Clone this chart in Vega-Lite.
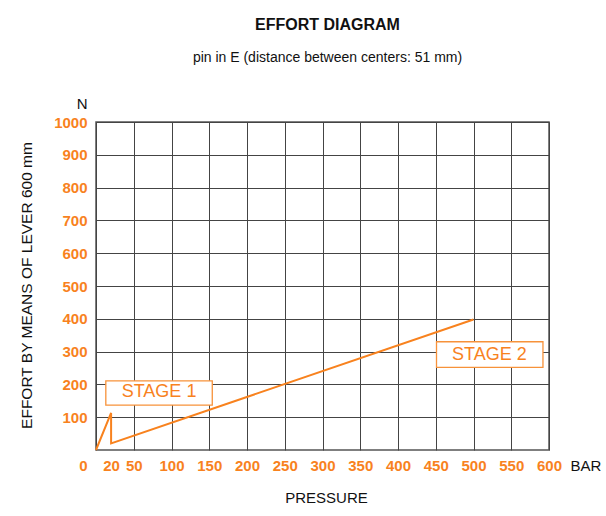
{
  "$schema": "https://vega.github.io/schema/vega-lite/v6.json",
  "width": 453,
  "height": 328,
  "autosize": {"type": "none"},
  "padding": {"left": 96, "top": 122, "right": 57, "bottom": 66},
  "background": "white",
  "title": {
    "text": "EFFORT DIAGRAM",
    "subtitle": "pin in E (distance between centers: 51 mm)",
    "anchor": "middle",
    "frame": "group",
    "dx": 5,
    "font": "Liberation Sans",
    "fontSize": 16,
    "fontWeight": "bold",
    "color": "#111111",
    "subtitleFont": "Liberation Sans",
    "subtitleFontSize": 14,
    "subtitleColor": "#111111",
    "subtitlePadding": 18,
    "offset": 31
  },
  "config": {
    "view": {"stroke": "#555555", "strokeWidth": 1.5}
  },
  "datasets": {
    "curve": [
      {"i": 1, "pressure": 0, "effort": 0},
      {"i": 2, "pressure": 20, "effort": 113},
      {"i": 3, "pressure": 20, "effort": 20},
      {"i": 4, "pressure": 500, "effort": 398}
    ],
    "stages": [
      {"label": "STAGE 1", "x1": 13, "x2": 154, "y1": 137, "y2": 211, "tx": 83.5, "ty": 176},
      {"label": "STAGE 2", "x1": 451, "x2": 592, "y1": 252, "y2": 330, "tx": 521, "ty": 291}
    ]
  },
  "layer": [
    {
      "data": {"name": "stages"},
      "mark": {"type": "rect", "fill": "white", "stroke": "#f7923a", "strokeWidth": 1.3},
      "encoding": {
        "x": {
          "field": "x1", "type": "quantitative",
          "scale": {"domain": [0, 600], "nice": false, "zero": true},
          "axis": {
            "orient": "bottom",
            "values": [0, 20, 50, 100, 150, 200, 250, 300, 350, 400, 450, 500, 550, 600],
            "format": "d",
            "grid": true,
            "gridColor": "#444444",
            "gridWidth": 1,
            "gridOpacity": {"condition": {"test": "datum.value === 20", "value": 0}, "value": 1},
            "ticks": false,
            "tickSize": 0,
            "domain": false,
            "labelFont": "Liberation Sans",
            "labelFontSize": 15,
            "labelFontWeight": "bold",
            "labelColor": "#f8821e",
            "labelBaseline": "alphabetic",
            "labelPadding": 20,
            "labelFlush": false,
            "labelOverlap": false,
            "labelOffset": {"condition": {"test": "datum.value === 0", "value": -13}, "value": 0},
            "title": "PRESSURE",
            "titleFont": "Liberation Sans",
            "titleFontSize": 15,
            "titleFontWeight": "normal",
            "titleColor": "#111111",
            "titleX": 230,
            "titleY": 52,
            "titleAlign": "center",
            "titleBaseline": "alphabetic"
          }
        },
        "x2": {"field": "x2"},
        "y": {
          "field": "y1", "type": "quantitative",
          "scale": {"domain": [0, 1000], "nice": false, "zero": true},
          "axis": {
            "orient": "left",
            "values": [100, 200, 300, 400, 500, 600, 700, 800, 900, 1000],
            "format": "d",
            "grid": true,
            "gridColor": "#444444",
            "gridWidth": 1,
            "ticks": false,
            "tickSize": 0,
            "domain": false,
            "labelFont": "Liberation Sans",
            "labelFontSize": 15,
            "labelFontWeight": "bold",
            "labelColor": "#f8821e",
            "labelPadding": 9,
            "labelFlush": false,
            "labelOverlap": false,
            "title": "EFFORT BY MEANS OF LEVER 600 mm",
            "titleFont": "Liberation Sans",
            "titleFontSize": 15.5,
            "titleFontWeight": "normal",
            "titleColor": "#111111",
            "titleAngle": 270,
            "titleX": -65,
            "titleY": 163,
            "titleAlign": "center",
            "titleBaseline": "alphabetic"
          }
        },
        "y2": {"field": "y2"}
      }
    },
    {
      "data": {"name": "stages"},
      "mark": {"type": "text", "font": "Liberation Sans", "fontSize": 18, "color": "#f8821e", "align": "center", "baseline": "middle"},
      "encoding": {
        "x": {"field": "tx", "type": "quantitative", "axis": null},
        "y": {"field": "ty", "type": "quantitative", "axis": null},
        "text": {"field": "label"}
      }
    },
    {
      "data": {"name": "curve"},
      "mark": {"type": "line", "color": "#f8821e", "strokeWidth": 2},
      "encoding": {
        "x": {
          "field": "pressure", "type": "quantitative",
          "scale": {"domain": [0, 600], "nice": false, "zero": true},
          "axis": {
            "orient": "bottom",
            "labels": false, "ticks": false, "domain": false, "grid": false,
            "title": "BAR",
            "titleFont": "Liberation Sans",
            "titleFontSize": 15,
            "titleFontWeight": "normal",
            "titleColor": "#111111",
            "titleX": 474,
            "titleY": 20,
            "titleAlign": "left",
            "titleBaseline": "alphabetic"
          }
        },
        "y": {
          "field": "effort", "type": "quantitative",
          "scale": {"domain": [0, 1000], "nice": false, "zero": true},
          "axis": {
            "orient": "left",
            "labels": false, "ticks": false, "domain": false, "grid": false,
            "title": "N",
            "titleFont": "Liberation Sans",
            "titleFontSize": 15,
            "titleFontWeight": "normal",
            "titleColor": "#111111",
            "titleAngle": 0,
            "titleX": -9,
            "titleY": -14,
            "titleAlign": "right",
            "titleBaseline": "alphabetic"
          }
        },
        "order": {"field": "i", "type": "quantitative"}
      }
    }
  ],
  "resolve": {"axis": {"x": "independent", "y": "independent"}}
}
